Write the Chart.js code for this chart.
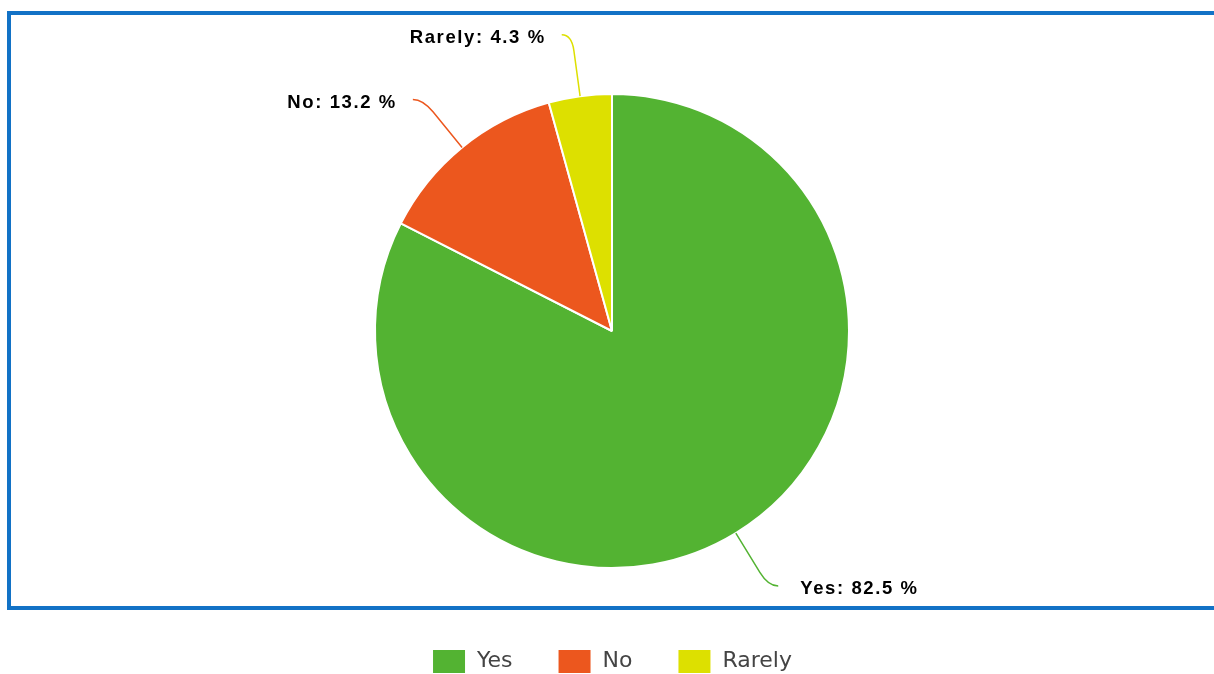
<!DOCTYPE html>
<html>
<head>
<meta charset="utf-8">
<script src="https://cdn.jsdelivr.net/npm/chart.js@4"></script>
<style>
  html, body { margin: 0; padding: 0; background: #fff; overflow: hidden; }
  canvas { display: block; }
</style>
</head>
<body>
<canvas id="c" width="1214" height="684"></canvas>
<script>
const categories = ['Yes', 'No', 'Rarely'];
const values = [82.5, 13.2, 4.3];
const colors = ['#53B332', '#EC571E', '#DDE000'];

const frameBorder = {
  id: 'frameBorder',
  beforeDraw(chart) {
    const ctx = chart.ctx;
    ctx.save();
    ctx.strokeStyle = '#1272C6';
    ctx.lineWidth = 4;
    ctx.strokeRect(9, 13, 1230, 595);
    ctx.restore();
  }
};

const outerLabels = {
  id: 'outerLabels',
  afterDatasetsDraw(chart) {
    const ctx = chart.ctx;
    const meta = chart.getDatasetMeta(0);
    ctx.save();
    meta.data.forEach((arc, i) => {
      const p = arc.getProps(['x', 'y', 'startAngle', 'endAngle', 'outerRadius'], true);
      const mid = (p.startAngle + p.endAngle) / 2;
      const c = Math.cos(mid), s = Math.sin(mid);
      const R = p.outerRadius;
      const x0 = p.x + c * R, y0 = p.y + s * R;
      const x1 = p.x + c * (R + 46), y1 = p.y + s * (R + 46);
      const xc = p.x + c * (R + 62), yc = p.y + s * (R + 62);
      const dir = c >= 0 ? 1 : -1;
      const xe = xc + dir * 10, ye = yc;
      ctx.strokeStyle = colors[i];
      ctx.lineWidth = 1.5;
      ctx.beginPath();
      ctx.moveTo(x0, y0);
      ctx.lineTo(x1, y1);
      ctx.quadraticCurveTo(xc, yc, xe, ye);
      ctx.stroke();
      const txt = categories[i] + ': ' + values[i].toFixed(1) + ' %';
      ctx.font = 'bold 18.5px "Liberation Sans", Arial, sans-serif';
      try { ctx.letterSpacing = '1.6px'; } catch (e) {}
      ctx.fillStyle = '#000';
      ctx.textBaseline = 'middle';
      if (dir > 0) {
        ctx.textAlign = 'left';
        ctx.fillText(txt, xe + 22, ye + 3);
      } else {
        ctx.textAlign = 'right';
        ctx.fillText(txt, xe - 16, ye + 3);
      }
    });
    ctx.restore();
  }
};

new Chart(document.getElementById('c'), {
  type: 'pie',
  data: {
    labels: categories,
    datasets: [{
      data: values,
      backgroundColor: colors,
      borderColor: '#ffffff',
      borderWidth: 2,
      hoverOffset: 0
    }]
  },
  options: {
    responsive: false,
    devicePixelRatio: 1,
    animation: false,
    radius: 237,
    layout: { padding: { top: 94, left: 10, right: 0, bottom: 0 } },
    plugins: {
      tooltip: { enabled: false },
      legend: {
        position: 'bottom',
        title: { display: true, text: '', font: { size: 12, lineHeight: 1 }, padding: { top: 24, bottom: 0 } },
        labels: {
          boxWidth: 34,
          boxHeight: 25,
          padding: 45,
          color: '#444444',
          font: { family: '"DejaVu Sans", sans-serif', size: 22 }
        }
      }
    }
  },
  plugins: [frameBorder, outerLabels]
});
</script>
</body>
</html>
